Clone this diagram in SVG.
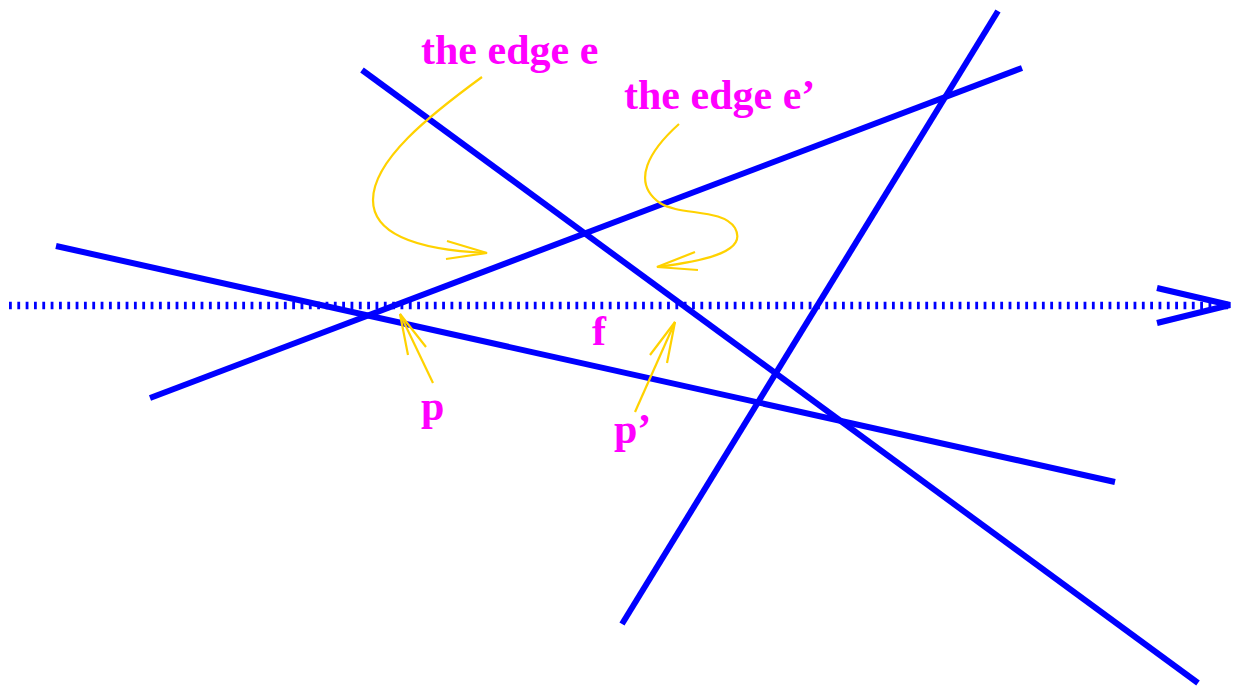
<svg xmlns="http://www.w3.org/2000/svg" width="1233" height="687" viewBox="0 0 1233 687">
<style>
.edge{stroke:#0000FF;stroke-width:6;fill:none;stroke-linecap:butt}
.ray{stroke:#0000FF;stroke-width:7.5;fill:none;stroke-dasharray:2.8 5.53}
.ptr{stroke:#FFD200;stroke-width:2.2;fill:none}
.lbl{font-family:"Liberation Serif","Times New Roman",serif;font-weight:bold;font-size:42px;fill:#FF00FF}
</style>
<rect width="1233" height="687" fill="#FFFFFF"/>
<g id="connectors">
<line class="ray" x1="9" y1="305.5" x2="1228" y2="305.5"/>
<polyline class="edge" points="1157,288 1230,305 1157,323"/>
<line class="edge" x1="362" y1="70" x2="1198" y2="683"/>
<line class="edge" x1="1022" y1="68" x2="150" y2="398"/>
<line class="edge" x1="998" y1="11" x2="622" y2="624"/>
<line class="edge" x1="56" y1="246" x2="1115" y2="482"/>
<path class="ptr" d="M482,77 C430,115 373,160 373,200 C373,235 420,250 487,253"/>
<polyline class="ptr" points="447,241 487,253 446,259"/>
<path class="ptr" d="M679,124 C650,150 630,182 660,203 C680,216 722,208 735,228 C747,250 712,260 657,267"/>
<polyline class="ptr" points="695,252 657,267 698,270"/>
<line class="ptr" x1="433" y1="383" x2="400" y2="314"/>
<polyline class="ptr" points="408,355 400,314 426,347"/>
<line class="ptr" x1="635" y1="412" x2="675" y2="322"/>
<polyline class="ptr" points="650,355 675,322 667,363"/>
</g>
<g id="label-e"><text class="lbl" x="421" y="64">the edge e</text></g>
<g id="label-e2"><text class="lbl" x="624" y="109">the edge e’</text></g>
<g id="label-f"><text class="lbl" x="592" y="345">f</text></g>
<g id="label-p"><text class="lbl" x="421" y="420">p</text></g>
<g id="label-p2"><text class="lbl" x="614" y="443">p’</text></g>
</svg>
